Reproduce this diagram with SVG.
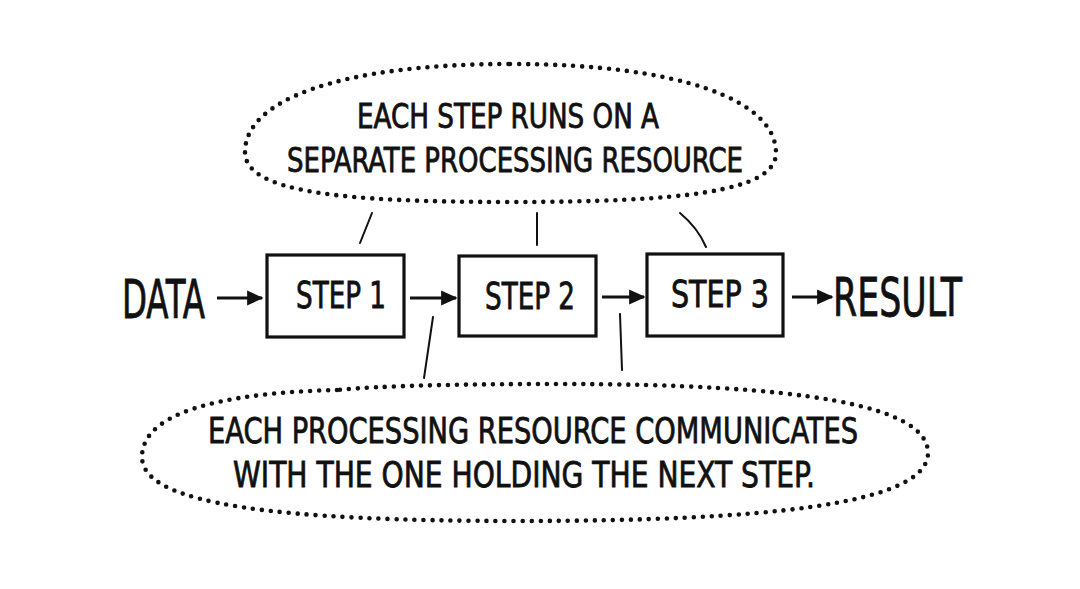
<svg xmlns="http://www.w3.org/2000/svg" width="1080" height="589" viewBox="0 0 1080 589">
<defs>
<style>
.t{font-family:"DejaVu Sans Condensed","Liberation Sans Narrow","Liberation Sans",sans-serif;fill:#111;stroke:#111;stroke-width:0.8;}
.box{fill:#fff;stroke:#111;stroke-width:3.2;}
.dot{fill:none;stroke:#111;stroke-width:4.6;stroke-linecap:round;stroke-dasharray:0 9;}
.ln{fill:none;stroke:#111;stroke-width:2;stroke-linecap:round;}
.ar{fill:none;stroke:#111;stroke-width:3;}
</style>
<marker id="ah" viewBox="0 0 10 10" refX="9" refY="5" markerWidth="5.5" markerHeight="5.5" markerUnits="strokeWidth" orient="auto">
<path d="M0,0.5 L10,5 L0,9.5 Z" fill="#111"/>
</marker>
</defs>
<rect width="1080" height="589" fill="#fff"/>

<g id="note-top">
<path class="dot" d="M510,64 C680,64 776,100 776,153 C776,192 680,202 510,202 C340,202 245,192 245,152 C245,100 340,64 510,64 Z"/>
<text class="t" x="508" y="128" font-size="33" text-anchor="middle" textLength="302" lengthAdjust="spacingAndGlyphs">EACH STEP RUNS ON A</text>
<text class="t" x="515" y="172" font-size="33" text-anchor="middle" textLength="456" lengthAdjust="spacingAndGlyphs">SEPARATE  PROCESSING RESOURCE</text>
</g>

<g id="note-bottom">
<path class="dot" d="M337,390 C250,392 142,405 142,457 C142,505 280,521 520,521 C760,521 928,505 928,453 C928,405 800,384 560,384 C450,384 380,386 337,390 Z"/>
<text class="t" x="533" y="443" font-size="36" text-anchor="middle" textLength="650" lengthAdjust="spacingAndGlyphs">EACH  PROCESSING RESOURCE COMMUNICATES</text>
<text class="t" x="524" y="487" font-size="36" text-anchor="middle" textLength="582" lengthAdjust="spacingAndGlyphs">WITH THE ONE HOLDING THE NEXT STEP.</text>
</g>

<g id="data">
<text class="t" x="122" y="318" font-size="54" textLength="83" lengthAdjust="spacingAndGlyphs">DATA</text>
</g>

<g id="step1">
<rect class="box" x="267" y="255" width="137" height="82"/>
<text class="t" x="341" y="308" font-size="38" text-anchor="middle" textLength="90" lengthAdjust="spacingAndGlyphs">STEP 1</text>
</g>

<g id="step2">
<rect class="box" x="459" y="256" width="137" height="80"/>
<text class="t" x="530" y="309" font-size="38" text-anchor="middle" textLength="90" lengthAdjust="spacingAndGlyphs">STEP 2</text>
</g>

<g id="step3">
<rect class="box" x="647" y="254" width="136" height="82"/>
<text class="t" x="720" y="307" font-size="38" text-anchor="middle" textLength="98" lengthAdjust="spacingAndGlyphs">STEP 3</text>
</g>

<g id="result">
<text class="t" x="833" y="316" font-size="54" textLength="129" lengthAdjust="spacingAndGlyphs">RESULT</text>
</g>

<g id="connectors">
<line class="ar" x1="217" y1="298" x2="262" y2="298" marker-end="url(#ah)"/>
<line class="ar" x1="410" y1="298" x2="456" y2="298" marker-end="url(#ah)"/>
<line class="ar" x1="602" y1="297" x2="644" y2="297" marker-end="url(#ah)"/>
<line class="ar" x1="792" y1="297" x2="832" y2="297" marker-end="url(#ah)"/>
<path class="ln" d="M372,213 L360,243"/>
<path class="ln" d="M537,213 L537,245"/>
<path class="ln" d="M680,213 Q698,228 706,247"/>
<path class="ln" d="M433,317 Q428,350 424,378"/>
<path class="ln" d="M620,314 Q621,345 622,370"/>
</g>
</svg>
